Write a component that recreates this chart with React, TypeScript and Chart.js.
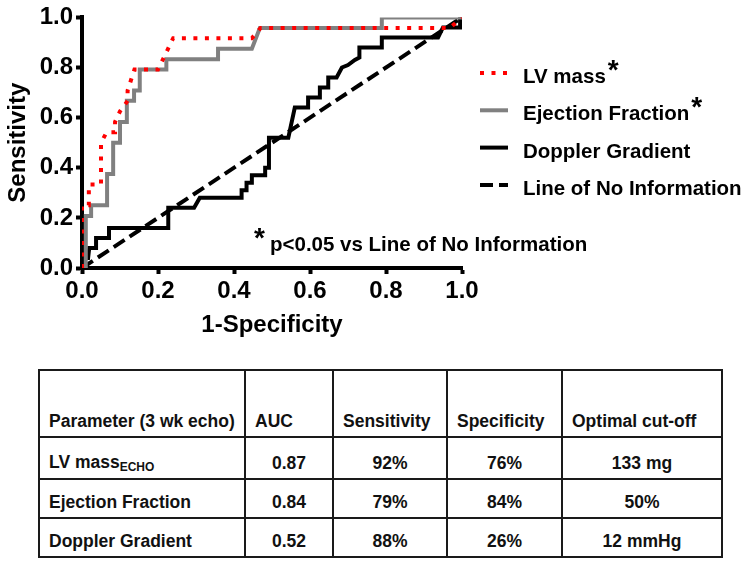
import React, { useEffect, useRef } from "react";
import { Chart, registerables } from "chart.js";

Chart.register(...registerables);

const FONT = "'Liberation Sans', Arial, Helvetica, sans-serif";

// ---- ROC curve data (1-Specificity, Sensitivity) ----
const lvMassFpr = [0, 0, 0.018, 0.018, 0.05, 0.05, 0.065, 0.087, 0.087, 0.1, 0.12, 0.12, 0.138, 0.2, 0.24, 0.447, 0.47, 0.968, 1];
const lvMassSens = [0, 0.25, 0.25, 0.333, 0.333, 0.5, 0.542, 0.542, 0.583, 0.625, 0.667, 0.708, 0.792, 0.792, 0.917, 0.917, 0.958, 0.958, 1];

const efFpr = [0, 0.01, 0.01, 0.024, 0.024, 0.066, 0.066, 0.082, 0.082, 0.1, 0.1, 0.118, 0.118, 0.137, 0.137, 0.152, 0.152, 0.222, 0.222, 0.358, 0.358, 0.447, 0.468, 0.789, 0.789, 1];
const efSens = [0, 0, 0.208, 0.208, 0.25, 0.25, 0.375, 0.375, 0.5, 0.5, 0.583, 0.583, 0.667, 0.667, 0.708, 0.708, 0.792, 0.792, 0.833, 0.833, 0.875, 0.875, 0.958, 0.958, 1, 1];

const dopplerFpr = [0, 0.008, 0.016, 0.019, 0.037, 0.037, 0.071, 0.071, 0.227, 0.227, 0.295, 0.31, 0.42, 0.42, 0.433, 0.433, 0.447, 0.447, 0.482, 0.482, 0.492, 0.492, 0.543, 0.56, 0.595, 0.595, 0.626, 0.626, 0.648, 0.648, 0.67, 0.684, 0.7, 0.718, 0.73, 0.73, 0.789, 0.789, 0.937, 0.95, 0.995, 0.995, 1];
const dopplerSens = [0, 0.04, 0.04, 0.08, 0.08, 0.12, 0.12, 0.16, 0.16, 0.24, 0.24, 0.28, 0.28, 0.31, 0.31, 0.34, 0.34, 0.37, 0.37, 0.4, 0.4, 0.52, 0.52, 0.64, 0.64, 0.68, 0.68, 0.72, 0.72, 0.76, 0.76, 0.8, 0.81, 0.83, 0.84, 0.88, 0.88, 0.92, 0.92, 0.96, 0.96, 1, 1];

const noInfoFpr = [0, 1];
const noInfoSens = [0, 1];

const seriesNames = ["LV mass", "Ejection Fraction", "Doppler Gradient", "Line of No Information"];
const significant = [true, true, false, false];
const noteText = "p<0.05 vs Line of No Information";

const axisTicks = [0, 0.2, 0.4, 0.6, 0.8, 1.0];
const xTitle = "1-Specificity";
const yTitle = "Sensitivity";

// ---- table ----
const tableHeaders = ["Parameter (3 wk echo)", "AUC", "Sensitivity", "Specificity", "Optimal cut-off"];
const paramNames = ["LV mass", "Ejection Fraction", "Doppler Gradient"];
const paramSubs = ["ECHO", "", ""];
const aucValues = ["0.87", "0.84", "0.52"];
const sensValues = ["92%", "79%", "88%"];
const specValues = ["76%", "84%", "26%"];
const cutoffValues = ["133 mg", "50%", "12 mmHg"];

const toPoints = (xs: number[], ys: number[]) => xs.map((x, i) => ({ x, y: ys[i] }));

const overlayPlugin = {
  id: "rocOverlay",
  afterDraw(chart: any) {
    const ctx = chart.ctx as CanvasRenderingContext2D;
    const ds = chart.data.datasets;
    ctx.save();
    const sx0 = 480, sx1 = 508, tx = 523;
    seriesNames.forEach((name, i) => {
      const d = ds[i];
      const by = 83 + i * 37.3;
      ctx.beginPath();
      ctx.strokeStyle = d.borderColor;
      ctx.lineWidth = 4;
      ctx.lineCap = "butt";
      ctx.setLineDash(d.borderDash || []);
      ctx.moveTo(sx0, by - 10);
      ctx.lineTo(sx1, by - 10);
      ctx.stroke();
      ctx.setLineDash([]);
      ctx.fillStyle = "#000";
      ctx.textAlign = "left";
      ctx.textBaseline = "alphabetic";
      ctx.font = `bold 20.5px ${FONT}`;
      ctx.fillText(name, tx, by);
      if (significant[i]) {
        const w = ctx.measureText(name).width;
        ctx.font = `bold 28px ${FONT}`;
        ctx.fillText("*", tx + w + 2, by - 4);
      }
    });
    // significance note
    ctx.fillStyle = "#000";
    ctx.font = `bold 28px ${FONT}`;
    ctx.fillText("*", 254, 247);
    ctx.font = `bold 20.5px ${FONT}`;
    ctx.fillText(noteText, 270, 251);
    ctx.restore();
  },
};

export default function App() {
  const ref = useRef<HTMLCanvasElement>(null);

  useEffect(() => {
    const scaleCommon = {
      type: "linear" as const,
      min: 0,
      max: 1,
      afterBuildTicks: (s: any) => {
        s.ticks = axisTicks.map((v) => ({ value: v }));
      },
      ticks: {
        color: "#000",
        font: { family: FONT, size: 24, weight: "bold" as const },
        callback: (v: any) => Number(v).toFixed(1),
      },
      grid: {
        display: true,
        drawOnChartArea: false,
        drawTicks: true,
        tickLength: 6,
        tickWidth: 4,
        tickColor: "#000",
      },
      border: { display: true, color: "#000", width: 4 },
    };

    const chart = new Chart(ref.current!, {
      type: "line",
      data: {
        datasets: [
          {
            label: seriesNames[0],
            data: toPoints(lvMassFpr, lvMassSens),
            borderColor: "#ff0000",
            borderWidth: 4,
            borderDash: [4, 7.5],
            pointRadius: 0,
            tension: 0,
            fill: false,
          },
          {
            label: seriesNames[1],
            data: toPoints(efFpr, efSens),
            borderColor: "#808080",
            borderWidth: 4,
            pointRadius: 0,
            tension: 0,
            fill: false,
          },
          {
            label: seriesNames[2],
            data: toPoints(dopplerFpr, dopplerSens),
            borderColor: "#000000",
            borderWidth: 4,
            pointRadius: 0,
            tension: 0,
            fill: false,
          },
          {
            label: seriesNames[3],
            data: toPoints(noInfoFpr, noInfoSens),
            borderColor: "#000000",
            borderWidth: 4,
            borderDash: [13, 6],
            pointRadius: 0,
            tension: 0,
            fill: false,
          },
        ],
      },
      options: {
        animation: false,
        responsive: false,
        devicePixelRatio: 1,
        parsing: false,
        layout: { padding: { left: 0, top: 16, right: 288, bottom: 0 } },
        plugins: { legend: { display: false }, tooltip: { enabled: false } },
        scales: {
          x: {
            ...scaleCommon,
            position: "bottom",
            ticks: { ...scaleCommon.ticks, padding: 3, maxRotation: 0 },
            title: {
              display: true,
              text: xTitle,
              color: "#000",
              font: { family: FONT, size: 24, weight: "bold" },
              padding: { top: 0, bottom: 10 },
            },
            afterFit: (s: any) => {
              s.height = 82;
            },
          },
          y: {
            ...scaleCommon,
            position: "left",
            ticks: { ...scaleCommon.ticks, padding: 3 },
            title: {
              display: true,
              text: yTitle,
              color: "#000",
              font: { family: FONT, size: 24, weight: "bold" },
              padding: { top: 4, bottom: 0 },
            },
            afterFit: (s: any) => {
              s.width = 82;
            },
          },
        },
      } as any,
      plugins: [overlayPlugin],
    });
    return () => chart.destroy();
  }, []);

  const cell: React.CSSProperties = {
    border: "2px solid #1a1a1a",
    padding: "0 9px 4px 9px",
    verticalAlign: "bottom",
    overflow: "hidden",
    whiteSpace: "nowrap",
  };
  const colWidths = [206, 88, 114, 115, 160];
  const rowHeights = [67, 42, 39, 39];
  const rows = paramNames.map((p, i) => [p, aucValues[i], sensValues[i], specValues[i], cutoffValues[i]]);

  return (
    <div style={{ position: "absolute", left: 0, top: 0, width: 750, height: 565, background: "#fff", fontFamily: FONT }}>
      <canvas ref={ref} width={750} height={350} style={{ position: "absolute", left: 0, top: 0, width: 750, height: 350, display: "block" }} />
      <table
        style={{
          position: "absolute",
          left: 38,
          top: 369,
          borderCollapse: "collapse",
          tableLayout: "fixed",
          width: 685,
          fontFamily: FONT,
          fontWeight: "bold",
          fontSize: 17.5,
          color: "#111",
        }}
      >
        <colgroup>
          {colWidths.map((w, i) => (
            <col key={i} style={{ width: w }} />
          ))}
        </colgroup>
        <tbody>
          <tr style={{ height: rowHeights[0] }}>
            {tableHeaders.map((h, i) => (
              <td key={i} style={{ ...cell, textAlign: "left" }}>
                {h}
              </td>
            ))}
          </tr>
          {rows.map((r, ri) => (
            <tr key={ri} style={{ height: rowHeights[ri + 1] }}>
              {r.map((v, ci) => (
                <td key={ci} style={{ ...cell, textAlign: ci === 0 ? "left" : "center" }}>
                  {v}
                  {ci === 0 && paramSubs[ri] ? (
                    <sub style={{ fontSize: 12, verticalAlign: "-3px" }}>{paramSubs[ri]}</sub>
                  ) : null}
                </td>
              ))}
            </tr>
          ))}
        </tbody>
      </table>
    </div>
  );
}
